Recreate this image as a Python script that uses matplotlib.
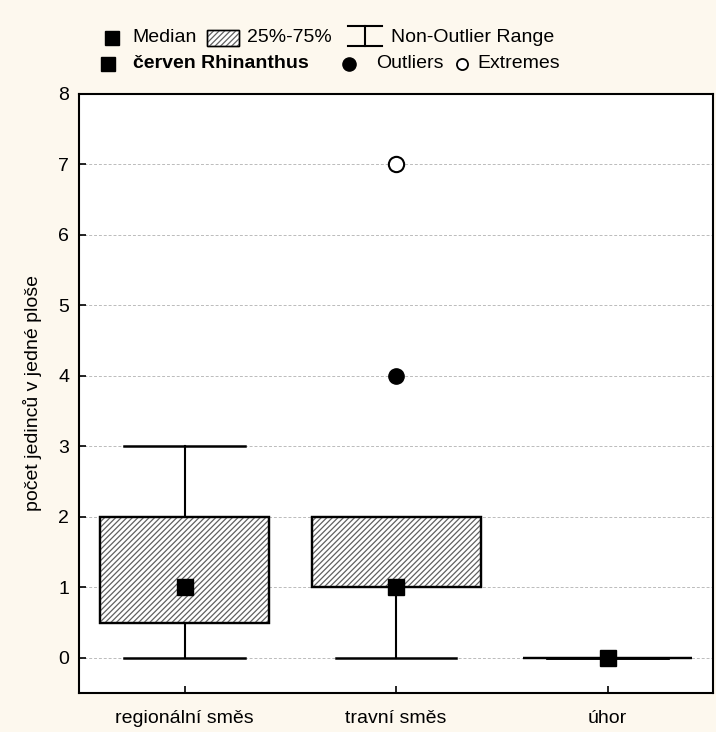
import numpy as np
import matplotlib.pyplot as plt
from matplotlib.lines import Line2D
from matplotlib.patches import Rectangle, PathPatch

plt.rcParams['font.family'] = ['Liberation Sans', 'DejaVu Sans']
plt.rcParams['hatch.linewidth'] = 0.9

# data
groups = ['regionální směs', 'travní směs', 'úhor']
medians = [1, 1, 0]
q1 = [0.5, 1, 0]
q3 = [2, 2, 0]
whisk_lo = [0, 0, 0]
whisk_hi = [3, 2, 0]
outliers = [[], [4], []]
extremes = [[], [7], []]

bg = '#FDF8EE'
hatch = '//////'
hatch_col = '#606060'
fig = plt.figure(figsize=(7.16, 7.32), dpi=100, facecolor=bg)
ax = fig.add_axes([0.1103, 0.0533, 0.886, 0.8183])

pos = np.arange(1, len(groups) + 1)
stats = []
for i in range(len(groups)):
    stats.append(dict(med=medians[i], q1=q1[i], q3=q3[i],
                      whislo=whisk_lo[i], whishi=whisk_hi[i], fliers=[]))

ax.grid(axis='y', color='#bbbbbb', linestyle=(0, (3, 2)), linewidth=0.7)
ax.set_axisbelow(True)
bp = ax.bxp(stats, positions=pos, widths=0.8, capwidths=0.57,
            patch_artist=True, showfliers=False,
            boxprops=dict(facecolor='white', edgecolor='black', linewidth=1.6),
            whiskerprops=dict(color='black', linewidth=1.5),
            capprops=dict(color='black', linewidth=1.8),
            medianprops=dict(linewidth=0))
for b in bp['boxes']:
    b.set_zorder(3)
    # hatch in a softer grey, laid over the white box
    ax.add_patch(PathPatch(b.get_path(), transform=b.get_transform(), facecolor='none',
                           edgecolor=hatch_col, linewidth=0, hatch=hatch, zorder=3.5))
    ax.add_patch(PathPatch(b.get_path(), transform=b.get_transform(), facecolor='none',
                           edgecolor='black', linewidth=1.6, zorder=3.6))

ax.plot(pos, medians, 's', color='black', markersize=11, zorder=5)
for i, p in enumerate(pos):
    if outliers[i]:
        ax.plot([p] * len(outliers[i]), outliers[i], 'o', color='black',
                markersize=11, zorder=5)
    if extremes[i]:
        ax.plot([p] * len(extremes[i]), extremes[i], 'o', markerfacecolor='white',
                markeredgecolor='black', markeredgewidth=1.5, markersize=11, zorder=5)

fs = 14
ax.set_xlim(0.5, 3.5)
ax.set_ylim(-0.5, 8)
ax.set_yticks(range(0, 9))
ax.set_xticks(pos)
ax.set_xticklabels(groups)
ax.tick_params(direction='in', length=5, width=1.2, labelsize=fs, pad=7)
ax.tick_params(axis='x', pad=12)
for s in ax.spines.values():
    s.set_linewidth(1.5)
ax.set_ylabel('počet jedinců v jedné ploše', fontsize=fs, labelpad=12)

# legend drawn by hand on the figure
W, H = 716, 732
def fx(x):
    return x / W
def fy(y):
    return 1 - y / H

r1, r2 = 38, 64
fig.add_artist(Line2D([fx(112)], [fy(r1)], marker='s', color='black', markersize=10,
                      transform=fig.transFigure))
for fc, ec, lw, h in [('white', 'black', 1, None), ('none', hatch_col, 0, hatch),
                      ('none', 'black', 1, None)]:
    fig.add_artist(Rectangle((fx(207), fy(r1 + 8)), fx(32), 16 / H,
                             transform=fig.transFigure, facecolor=fc, edgecolor=ec,
                             linewidth=lw, hatch=h))
fig.text(fx(132), fy(r1), 'Median', fontsize=fs, va='center')
fig.text(fx(247), fy(r1), '25%-75%', fontsize=fs, va='center')
fig.add_artist(Line2D([fx(348), fx(382)], [fy(46)] * 2, color='black', linewidth=1.5,
                      transform=fig.transFigure))
fig.add_artist(Line2D([fx(348), fx(382)], [fy(26)] * 2, color='black', linewidth=1.5,
                      transform=fig.transFigure))
fig.add_artist(Line2D([fx(365), fx(365)], [fy(46), fy(26)], color='black',
                      linewidth=1.5, transform=fig.transFigure))
fig.text(fx(391), fy(r1), 'Non-Outlier Range', fontsize=fs, va='center')

fig.add_artist(Line2D([fx(108)], [fy(r2)], marker='s', color='black', markersize=10.5,
                      transform=fig.transFigure))
fig.text(fx(133), fy(r2), 'červen Rhinanthus', fontsize=fs, va='center', fontweight='bold')
fig.add_artist(Line2D([fx(349)], [fy(r2)], marker='o', color='black', markersize=9.5,
                      transform=fig.transFigure))
fig.text(fx(376), fy(r2), 'Outliers', fontsize=fs, va='center')
fig.add_artist(Line2D([fx(462)], [fy(r2)], marker='o', markerfacecolor='white',
                      markeredgecolor='black', markeredgewidth=1.3, markersize=8,
                      transform=fig.transFigure))
fig.text(fx(477), fy(r2), 'Extremes', fontsize=fs, va='center')

fig.savefig('out.png', dpi=100, facecolor=bg)
